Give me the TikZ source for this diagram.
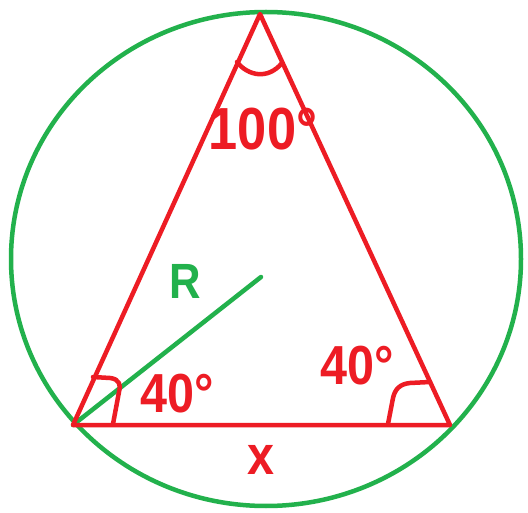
\documentclass[tikz,border=0pt]{standalone}
\usepackage{fontspec}
\setmainfont{Liberation Sans}
\definecolor{pred}{HTML}{ED1C24}
\definecolor{pgreen}{HTML}{22B14C}
\newcommand{\tallt}[1]{\scalebox{0.97}[1.1]{#1}}
\begin{document}
\begin{tikzpicture}[x=1pt,y=-1pt,
  redline/.style={draw=pred,line width=4.5pt,line join=round,line cap=round},
  greenline/.style={draw=pgreen,line width=4.5pt,line cap=round},
  lbl/.style={inner sep=0pt,font=\bfseries}]
\useasboundingbox (0,0) rectangle (528,513);
\fill[white] (0,0) rectangle (528,513);
% circle
\coordinate (O) at (266,259);
\draw[greenline] (O) ellipse [x radius=255, y radius=-247];
% triangle
\coordinate (A) at (260,14);
\coordinate (B) at (73,425);
\coordinate (C) at (450,425);
\coordinate (M) at (261,277);
\draw[greenline] (B) -- (M);
\draw[redline] (A) -- (B) -- (C) -- cycle;
% angle marks
\draw[redline] (237,62) .. controls (248,76) and (268,80) .. (282,63);
\draw[redline] (93,377) -- (110,378) .. controls (120,379) and (121,386) .. (119,392) -- (113,424);
\draw[redline] (388,424) -- (393,398) .. controls (395,389) and (400,384) .. (410,383) -- (430,382);
% labels
\node[lbl,text=pred,font=\bfseries\fontsize{54}{54}\selectfont] (t100) at (263,129) {\tallt{100°}};
\node[lbl,text=pred,font=\bfseries\fontsize{50}{50}\selectfont] (t40a) at (177,394) {\tallt{40°}};
\node[lbl,text=pred,font=\bfseries\fontsize{50}{50}\selectfont] (t40b) at (357,366) {\tallt{40°}};
\node[lbl,text=pgreen,font=\bfseries\fontsize{45}{45}\selectfont] (tR) at (185,281) {\tallt{R}};
\node[lbl,text=pred,font=\bfseries\fontsize{50}{50}\selectfont] (tx) at (261,460) {\tallt{x}};
\end{tikzpicture}
\end{document}
